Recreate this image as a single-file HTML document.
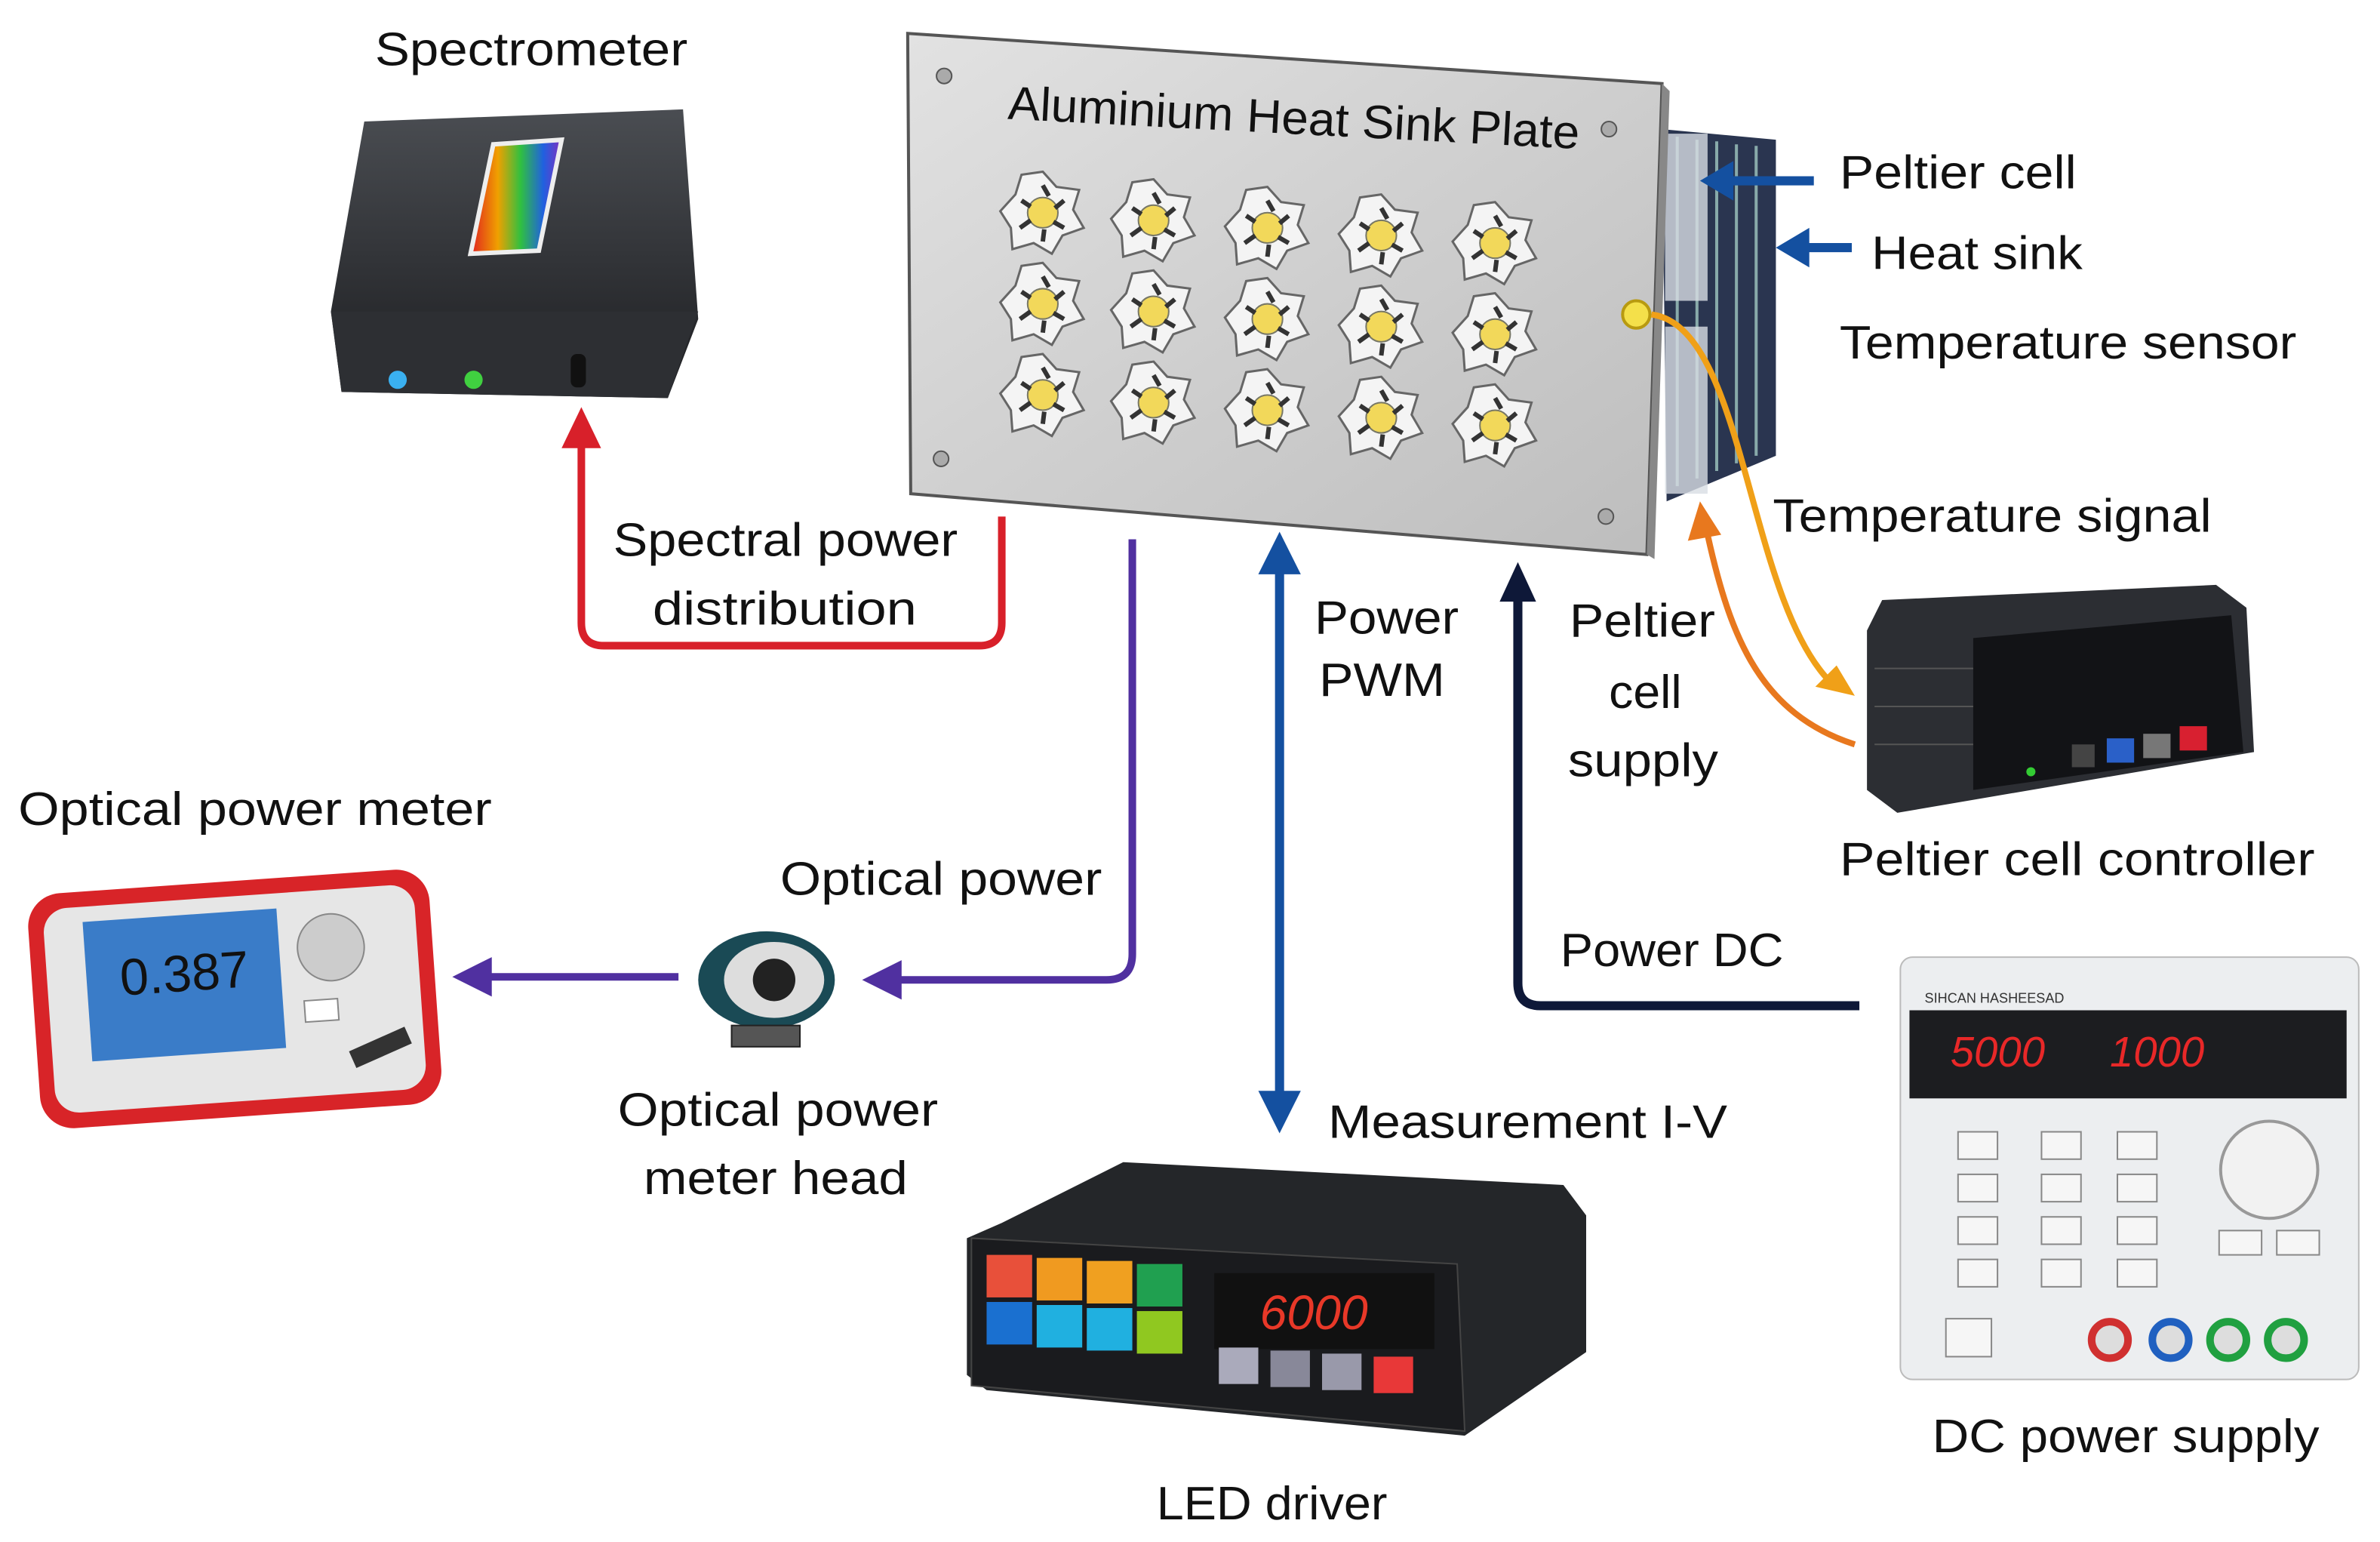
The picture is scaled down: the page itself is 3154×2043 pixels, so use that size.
<!DOCTYPE html>
<html><head><meta charset="utf-8"><style>
html,body{margin:0;padding:0;background:#fff;}
svg{display:block;}
text{font-family:"Liberation Sans",sans-serif;fill:#111;}
</style></head><body>
<svg width="3154" height="2043" viewBox="0 0 1568 1015" preserveAspectRatio="none" xmlns="http://www.w3.org/2000/svg">
<defs>
<linearGradient id="al" x1="0" y1="0" x2="1" y2="1"><stop offset="0" stop-color="#e2e2e2"/><stop offset="0.5" stop-color="#cfcfcf"/><stop offset="1" stop-color="#bdbdbd"/></linearGradient>
<linearGradient id="blk" x1="0" y1="0" x2="0" y2="1"><stop offset="0" stop-color="#4a4d52"/><stop offset="1" stop-color="#1c1d20"/></linearGradient>
<linearGradient id="spec" x1="0" y1="0" x2="1" y2="0"><stop offset="0" stop-color="#e02020"/><stop offset="0.3" stop-color="#f0a000"/><stop offset="0.55" stop-color="#30c040"/><stop offset="0.8" stop-color="#2060e0"/><stop offset="1" stop-color="#8030c0"/></linearGradient>
<g id="led"><polygon points="0,-27 9,-17 24,-15 20,-2 27,10 13,15 6,27 -6,20 -20,24 -21,10 -28,-1 -18,-12 -14,-25" fill="#f4f4f4" stroke="#666" stroke-width="1.5"/><circle r="10" fill="#f2d85a" stroke="#776" stroke-width="1"/><path d="M0,-18 L4,-11 M14,-8 L8,-3 M14,10 L7,6 M0,19 L1,11 M-15,10 L-8,5 M-14,-8 L-8,-4" stroke="#333" stroke-width="3"/></g>
</defs>

<!-- Spectrometer -->
<text x="247" y="43" font-size="31" textLength="206" lengthAdjust="spacingAndGlyphs">Spectrometer</text>
<polygon points="240,80 450,72 460,210 440,262 225,258 218,205" fill="url(#blk)"/>
<polygon points="218,205 460,205 440,262 225,258" fill="#2d2f33"/>
<polygon points="325,95 370,92 355,165 310,167" fill="url(#spec)" stroke="#eee" stroke-width="3"/>
<circle cx="262" cy="250" r="6" fill="#3ab0f0"/><circle cx="312" cy="250" r="6" fill="#40d040"/>
<rect x="376" y="233" width="10" height="22" rx="4" fill="#111"/>

<!-- Heat sink fins -->
<g>
<polygon points="1095,85 1170,92 1170,300 1098,330" fill="#2a3550"/>
<g stroke="#8aa" stroke-width="2">
<line x1="1105" y1="90" x2="1105" y2="320"/><line x1="1118" y1="92" x2="1118" y2="315"/><line x1="1131" y1="93" x2="1131" y2="310"/><line x1="1144" y1="95" x2="1144" y2="305"/><line x1="1157" y1="96" x2="1157" y2="300"/>
</g>
<rect x="1097" y="88" width="28" height="110" fill="#d8dde4" opacity="0.8"/>
<rect x="1097" y="215" width="28" height="110" fill="#d8dde4" opacity="0.8"/>
</g>
<!-- Plate -->
<polygon points="598,22 1095,55 1085,365 600,325" fill="url(#al)" stroke="#555" stroke-width="2"/>
<polygon points="1095,55 1100,60 1090,368 1085,365" fill="#888"/>
<text x="663" y="88" font-size="31" textLength="377" lengthAdjust="spacingAndGlyphs" transform="rotate(3 850 95)">Aluminium Heat Sink Plate</text>
<g fill="#aaa" stroke="#555"><circle cx="622" cy="50" r="5"/><circle cx="1060" cy="85" r="5"/><circle cx="620" cy="302" r="5"/><circle cx="1058" cy="340" r="5"/></g>
<g>
<use href="#led" x="687" y="140"/><use href="#led" x="760" y="145"/><use href="#led" x="835" y="150"/><use href="#led" x="910" y="155"/><use href="#led" x="985" y="160"/>
<use href="#led" x="687" y="200"/><use href="#led" x="760" y="205"/><use href="#led" x="835" y="210"/><use href="#led" x="910" y="215"/><use href="#led" x="985" y="220"/>
<use href="#led" x="687" y="260"/><use href="#led" x="760" y="265"/><use href="#led" x="835" y="270"/><use href="#led" x="910" y="275"/><use href="#led" x="985" y="280"/>
</g>
<circle cx="1078" cy="207" r="9" fill="#f4e04a" stroke="#b89a10" stroke-width="2"/>

<!-- right labels and arrows -->
<line x1="1195" y1="119" x2="1140" y2="119" stroke="#1450a0" stroke-width="6"/><polygon points="1120,119 1142,106 1142,132" fill="#1450a0"/>
<line x1="1220" y1="163" x2="1190" y2="163" stroke="#1450a0" stroke-width="6"/><polygon points="1170,163 1192,150 1192,176" fill="#1450a0"/>
<text x="1212" y="124" font-size="31" textLength="156" lengthAdjust="spacingAndGlyphs">Peltier cell</text>
<text x="1233" y="177" font-size="31" textLength="139" lengthAdjust="spacingAndGlyphs">Heat sink</text>
<text x="1212" y="236" font-size="31" textLength="301" lengthAdjust="spacingAndGlyphs">Temperature sensor</text>
<text x="1168" y="350" font-size="31" textLength="289" lengthAdjust="spacingAndGlyphs">Temperature signal</text>

<!-- orange curves -->
<path d="M1088,207 C1150,215 1150,390 1205,448" fill="none" stroke="#f0a018" stroke-width="4"/>
<polygon points="1222,458 1196,452 1210,438" fill="#f0a018"/>
<path d="M1222,490 C1160,470 1140,420 1125,352" fill="none" stroke="#e8781e" stroke-width="4"/>
<polygon points="1120,330 1112,356 1134,352" fill="#e8781e"/>

<!-- Peltier controller -->
<polygon points="1240,395 1460,385 1480,400 1485,495 1250,535 1230,520 1230,415" fill="#2c2e33"/>
<polygon points="1300,420 1470,405 1478,495 1300,520" fill="#121316"/>
<g stroke="#555" stroke-width="1"><line x1="1235" y1="440" x2="1300" y2="440"/><line x1="1235" y1="465" x2="1300" y2="465"/><line x1="1235" y1="490" x2="1300" y2="490"/></g>
<rect x="1365" y="490" width="15" height="15" fill="#444"/><rect x="1388" y="486" width="18" height="16" fill="#2a60c8"/><rect x="1412" y="483" width="18" height="16" fill="#777"/><rect x="1436" y="478" width="18" height="16" fill="#d82030"/>
<circle cx="1338" cy="508" r="3" fill="#3c3"/>
<text x="1212" y="576" font-size="31" textLength="313" lengthAdjust="spacingAndGlyphs">Peltier cell controller</text>

<!-- Red arrow -->
<path d="M660,340 L660,410 Q660,425 645,425 L398,425 Q383,425 383,410 L383,292" fill="none" stroke="#d8202a" stroke-width="5"/>
<polygon points="383,268 370,295 396,295" fill="#d8202a"/>
<text x="404" y="366" font-size="31" textLength="227" lengthAdjust="spacingAndGlyphs">Spectral power</text>
<text x="430" y="411" font-size="31" textLength="174" lengthAdjust="spacingAndGlyphs">distribution</text>

<!-- Purple -->
<path d="M746,355 L746,628 Q746,645 729,645 L592,645" fill="none" stroke="#5030a0" stroke-width="5"/>
<polygon points="568,645 594,632 594,658" fill="#5030a0"/>
<line x1="447" y1="643" x2="320" y2="643" stroke="#5030a0" stroke-width="5"/>
<polygon points="298,643 324,630 324,656" fill="#5030a0"/>
<text x="514" y="589" font-size="31" textLength="212" lengthAdjust="spacingAndGlyphs">Optical power</text>

<!-- optical head -->
<ellipse cx="505" cy="645" rx="45" ry="32" fill="#1a4a55"/>
<ellipse cx="510" cy="645" rx="33" ry="25" fill="#ddd"/>
<circle cx="510" cy="645" r="14" fill="#222"/>
<rect x="482" y="675" width="45" height="14" fill="#555" stroke="#222"/>
<text x="407" y="741" font-size="31" textLength="211" lengthAdjust="spacingAndGlyphs">Optical power</text>
<text x="424" y="786" font-size="31" textLength="174" lengthAdjust="spacingAndGlyphs">meter head</text>

<!-- optical power meter -->
<text x="12" y="543" font-size="31" textLength="312" lengthAdjust="spacingAndGlyphs">Optical power meter</text>
<g transform="rotate(-4 155 655)">
<rect x="22" y="580" width="265" height="155" rx="22" fill="#d82428"/>
<rect x="32" y="590" width="245" height="135" rx="16" fill="#e6e6e6"/>
<rect x="58" y="600" width="128" height="92" fill="#3a7cc8"/>
<text x="80" y="650" font-size="34" style="fill:#111">0.387</text>
<circle cx="220" cy="628" r="22" fill="#ccc" stroke="#888"/>
<rect x="200" y="662" width="22" height="14" fill="#fff" stroke="#888"/>
<rect x="228" y="690" width="40" height="12" fill="#333" transform="rotate(-20 248 696)"/>
</g>

<!-- Blue double arrow -->
<line x1="843" y1="372" x2="843" y2="724" stroke="#1450a0" stroke-width="6"/>
<polygon points="843,350 829,378 857,378" fill="#1450a0"/>
<polygon points="843,746 829,718 857,718" fill="#1450a0"/>
<text x="866" y="417" font-size="31" textLength="95" lengthAdjust="spacingAndGlyphs">Power</text>
<text x="869" y="458" font-size="31" textLength="83" lengthAdjust="spacingAndGlyphs">PWM</text>
<text x="875" y="749" font-size="31" textLength="263" lengthAdjust="spacingAndGlyphs">Measurement I-V</text>

<!-- navy -->
<path d="M1225,662 L1015,662 Q1000,662 1000,647 L1000,392" fill="none" stroke="#0e1838" stroke-width="6"/>
<polygon points="1000,370 988,396 1012,396" fill="#0e1838"/>
<text x="1034" y="419" font-size="31" textLength="96" lengthAdjust="spacingAndGlyphs">Peltier</text>
<text x="1060" y="466" font-size="31" textLength="48" lengthAdjust="spacingAndGlyphs">cell</text>
<text x="1033" y="511" font-size="31" textLength="99" lengthAdjust="spacingAndGlyphs">supply</text>
<text x="1028" y="636" font-size="31" textLength="147" lengthAdjust="spacingAndGlyphs">Power DC</text>

<!-- LED driver -->
<polygon points="660,805 740,765 1030,780 1045,800 1045,890 965,945 650,915 637,905 637,815" fill="#242629"/>
<polygon points="640,815 960,832 965,942 640,912" fill="#1a1b1e" stroke="#444"/>
<g>
<rect x="650" y="826" width="30" height="28" fill="#e8503a"/><rect x="683" y="828" width="30" height="28" fill="#f09a20"/><rect x="716" y="830" width="30" height="28" fill="#f0a020"/><rect x="749" y="832" width="30" height="28" fill="#20a050"/>
<rect x="650" y="857" width="30" height="28" fill="#1a70d0"/><rect x="683" y="859" width="30" height="28" fill="#20b0e0"/><rect x="716" y="861" width="30" height="28" fill="#20b0e0"/><rect x="749" y="863" width="30" height="28" fill="#90c820"/>
</g>
<rect x="800" y="838" width="145" height="50" fill="#111"/>
<text x="830" y="875" font-size="32" style="fill:#e83828;font-style:italic">6000</text>
<rect x="803" y="887" width="26" height="24" fill="#aab"/><rect x="837" y="889" width="26" height="24" fill="#889"/><rect x="871" y="891" width="26" height="24" fill="#99a"/><rect x="905" y="893" width="26" height="24" fill="#e83838"/>
<text x="762" y="1000" font-size="31" textLength="152" lengthAdjust="spacingAndGlyphs">LED driver</text>

<!-- DC power supply -->
<rect x="1252" y="630" width="302" height="278" rx="8" fill="#eceef0" stroke="#bbb"/>
<rect x="1258" y="665" width="288" height="58" fill="#1c1d20"/>
<text x="1268" y="660" font-size="9" style="fill:#333">SIHCAN  HASHEESAD</text>
<text x="1285" y="702" font-size="28" style="fill:#e82828;font-style:italic">5000</text>
<text x="1390" y="702" font-size="28" style="fill:#e82828;font-style:italic">1000</text>
<g fill="#f6f6f6" stroke="#888">
<rect x="1290" y="745" width="26" height="18"/><rect x="1345" y="745" width="26" height="18"/><rect x="1395" y="745" width="26" height="18"/>
<rect x="1290" y="773" width="26" height="18"/><rect x="1345" y="773" width="26" height="18"/><rect x="1395" y="773" width="26" height="18"/>
<rect x="1290" y="801" width="26" height="18"/><rect x="1345" y="801" width="26" height="18"/><rect x="1395" y="801" width="26" height="18"/>
<rect x="1290" y="829" width="26" height="18"/><rect x="1345" y="829" width="26" height="18"/><rect x="1395" y="829" width="26" height="18"/>
<rect x="1462" y="810" width="28" height="16"/><rect x="1500" y="810" width="28" height="16"/>
<rect x="1282" y="868" width="30" height="25"/>
</g>
<circle cx="1495" cy="770" r="32" fill="#f2f2f2" stroke="#999" stroke-width="2"/>
<g stroke-width="5" fill="#ddd"><circle cx="1390" cy="882" r="12" stroke="#d03030"/><circle cx="1430" cy="882" r="12" stroke="#2060c0"/><circle cx="1468" cy="882" r="12" stroke="#20a040"/><circle cx="1506" cy="882" r="12" stroke="#20a040"/></g>
<text x="1273" y="956" font-size="31" textLength="255" lengthAdjust="spacingAndGlyphs">DC power supply</text>
</svg>
</body></html>
